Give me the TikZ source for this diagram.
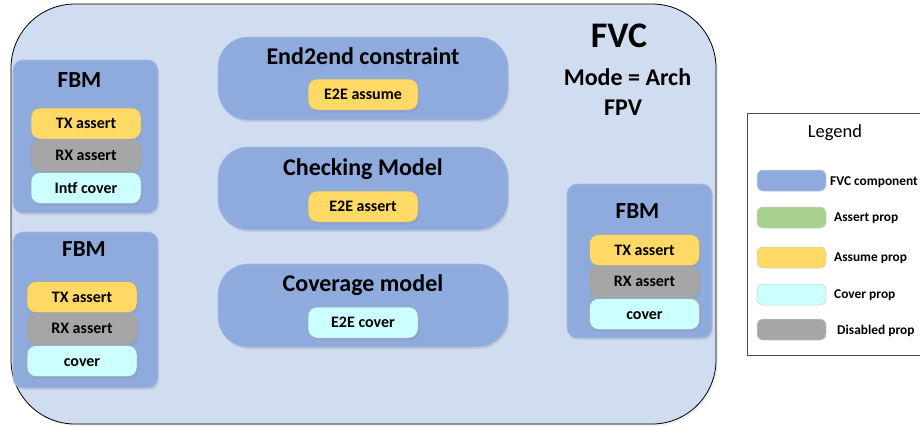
\documentclass[tikz,border=0pt]{standalone}
\usepackage{fontspec}
\setmainfont{Carlito}
\usetikzlibrary{shadows}

\definecolor{fvcbg}{HTML}{D0DCEF}
\definecolor{compfill}{HTML}{8FAADC}
\definecolor{compline}{HTML}{A9BDE3}
\definecolor{assumefill}{HTML}{FFD966}
\definecolor{coverfill}{HTML}{CCFFFF}
\definecolor{disabledfill}{HTML}{A6A6A6}
\definecolor{assertfill}{HTML}{A9D18E}

\tikzset{
  softshadow/.style={drop shadow={opacity=0.18, shadow xshift=1.2pt, shadow yshift=-2pt}},
  fvcbox/.style={fill=fvcbg, draw=black, line width=0.8pt, rounded corners=64pt,
    drop shadow={opacity=0.12, shadow xshift=2pt, shadow yshift=-2pt}},
  fbmbox/.style={fill=compfill, draw=compline, line width=0.6pt, rounded corners=10pt, softshadow, inner sep=0pt},
  modelbox/.style={fill=compfill, draw=compline, line width=0.6pt, rounded corners=30pt, softshadow,
    minimum width=290pt, minimum height=83pt, inner sep=0pt},
  pill/.style={draw=black!35, line width=0.5pt, rounded corners=9pt, softshadow,
    minimum width=110pt, minimum height=31pt, inner sep=0pt,
    font=\bfseries\fontsize{16}{18}\selectfont, text height=10.3pt, text depth=0pt},
  title/.style={inner sep=0pt, font=\bfseries\fontsize{24}{26}\selectfont, text height=15.4pt, text depth=0pt},
  fbmtitle/.style={inner sep=0pt, font=\bfseries\fontsize{23}{25}\selectfont, text height=14.8pt, text depth=0pt},
  swatch/.style={draw=black!20, line width=0.5pt, rounded corners=6pt, minimum width=69pt, minimum height=21pt, inner sep=0pt},
  legtext/.style={anchor=west, inner sep=0pt, font=\bfseries\fontsize{13.4}{15}\selectfont, text height=8.6pt, text depth=0pt},
}

\begin{document}
\begin{tikzpicture}[x=1pt, y=-1pt]
\useasboundingbox (0,0) rectangle (920,426);

% outer FVC container
\path[fvcbox] (11,4) rectangle (716,424);
\node[inner sep=0pt, font=\bfseries\fontsize{36}{38}\selectfont, text height=23.2pt, text depth=0pt] (fvc) at (619,36) {FVC};
\node[title] (mode) at (627.5,77.5) {Mode = Arch};
\node[title] (fpv) at (623,107.5) {FPV};

% left FBM (upper)
\node[fbmbox, minimum width=145pt, minimum height=153pt] (fbmA) at (85.5,136.5) {};
\node[fbmtitle] (fbmAt) at (79.5,80) {FBM};
\node[pill, fill=assumefill]   (txA)  at (86,123.5) {TX assert};
\node[pill, fill=disabledfill] (rxA)  at (86,155.5) {RX assert};
\node[pill, fill=coverfill]    (cvA)  at (86,188)   {Intf cover};

% left FBM (lower)
\node[fbmbox, minimum width=145pt, minimum height=156pt] (fbmB) at (85.5,310) {};
\node[fbmtitle] (fbmBt) at (84,249) {FBM};
\node[pill, fill=assumefill]   (txB)  at (82,297)   {TX assert};
\node[pill, fill=disabledfill] (rxB)  at (82,328.5) {RX assert};
\node[pill, fill=coverfill]    (cvB)  at (82,361)   {cover};

% central models
\node[modelbox] (e2e) at (363,78.5) {};
\node[title] (e2et) at (363,56.7) {End2end constraint};
\node[pill, fill=assumefill] (e2ea) at (363,94.5) {E2E assume};

\node[modelbox] (chk) at (363,188.5) {};
\node[title] (chkt) at (363,167.5) {Checking Model};
\node[pill, fill=assumefill] (e2es) at (363,206.5) {E2E assert};

\node[modelbox] (cov) at (363,305.5) {};
\node[title] (covt) at (363,284) {Coverage model};
\node[pill, fill=coverfill] (e2ec) at (363,322.5) {E2E cover};

% right FBM
\node[fbmbox, minimum width=145pt, minimum height=154pt] (fbmC) at (639.5,261) {};
\node[fbmtitle] (fbmCt) at (637.5,211) {FBM};
\node[pill, fill=assumefill]   (txC)  at (644.5,250)   {TX assert};
\node[pill, fill=disabledfill] (rxC)  at (644.5,281.5) {RX assert};
\node[pill, fill=coverfill]    (cvC)  at (644.5,314)   {cover};

% legend
\path[fill=white, draw=black!70, line width=0.7pt] (747,113) rectangle (924,355);
\node[inner sep=0pt, font=\fontsize{18.5}{20}\selectfont, text height=11.9pt, text depth=0pt] (leg) at (835,132) {Legend};
\node[swatch, fill=compfill]     (sw1) at (791.5,180.5) {};
\node[swatch, fill=assertfill]   (sw2) at (791.5,217.5) {};
\node[swatch, fill=assumefill]   (sw3) at (791.5,257.5) {};
\node[swatch, fill=coverfill]    (sw4) at (791.5,294.5) {};
\node[swatch, fill=disabledfill] (sw5) at (791.5,329.5) {};
\node[legtext] (l1) at (830,181) {FVC component};
\node[legtext] (l2) at (834,217.5) {Assert prop};
\node[legtext] (l3) at (834,257) {Assume prop};
\node[legtext] (l4) at (834,294) {Cover prop};
\node[legtext] (l5) at (837,330) {Disabled prop};
\end{tikzpicture}
\end{document}
